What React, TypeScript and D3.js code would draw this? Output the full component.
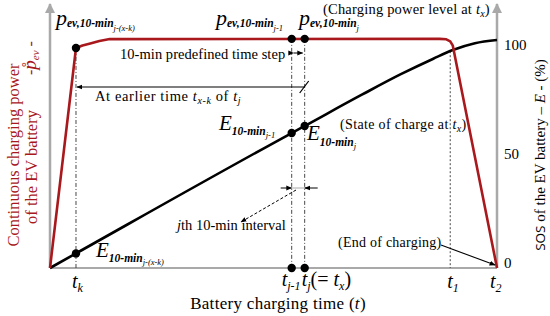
import React from 'react';
import * as d3 from 'd3';

// charging power (% of rated level) over charging time (min)
const powerTime = [0, 20, 25, 31, 38, 46, 300, 305, 308, 310, 344];
const powerLevel = [0, 96.5, 97.6, 98.5, 99.6, 100.4, 100.5, 100.3, 99.4, 97.5, 0];

// state of charge (%) over charging time (min)
const socTime = [0, 20, 186, 196, 240, 270, 295, 310, 327, 344];
const socLevel = [0, 6.4, 59.2, 62.3, 76, 85, 91.8, 95.6, 98.6, 100];

// marked instants
const tK = 20;
const tJ1 = 186;
const tJ = 196;
const t1 = 308;
const t2 = 344;

const powerDotTime = [tK, tJ1, tJ];
const powerDotLevel = [96.5, 100.5, 100.5];
const socDotTime = [tK, tJ1, tJ];
const socDotLevel = [6.4, 59.2, 62.3];
const axisDotTime = [tJ1, tJ];
const socTicks = [0, 50, 100];

const RED = '#a8181c';
const GRAY = '#a9a9a9';
const SERIF = '"Liberation Serif", "Times New Roman", serif';

export default function App() {
  const width = 550;
  const height = 316;

  const x = d3.scaleLinear().domain([0, t2]).range([50, 497]);
  const y = d3.scaleLinear().domain([0, 100]).range([268, 40]);
  const tickY = d3.scaleLinear().domain([0, 100]).range([268, 50]);

  const powerLine = d3.line<number>()
    .x((d, i) => x(powerTime[i]))
    .y((d) => y(d));
  const socLine = d3.line<number>()
    .x((d, i) => x(socTime[i]))
    .y((d) => y(d))
    .curve(d3.curveMonotoneX);

  const socAt = (t: number) => {
    const i = d3.bisectLeft(socTime, t);
    if (i <= 0) return socLevel[0];
    const a = socTime[i - 1], b = socTime[i];
    return socLevel[i - 1] + (socLevel[i] - socLevel[i - 1]) * (t - a) / (b - a);
  };

  const base = y(0);
  const sub = { fontStyle: 'italic' as const, fontWeight: 700 };

  return (
    <svg width={width} height={height} viewBox={`0 0 ${width} ${height}`}
      style={{ position: 'absolute', left: 0, top: 0, fontFamily: SERIF }}>
      <defs>
        <marker id="axArrow" viewBox="0 0 10 10" refX="9" refY="5" markerWidth="4" markerHeight="4" orient="auto">
          <path d="M0,0 L10,5 L0,10 z" fill={GRAY} />
        </marker>
        <marker id="blkArrow" viewBox="0 0 10 10" refX="9" refY="5" markerWidth="6" markerHeight="6" orient="auto" markerUnits="userSpaceOnUse">
          <path d="M0,1 L10,5 L0,9 z" fill="#000" />
        </marker>
      </defs>

      {/* axes */}
      <line x1={x(0)} y1={base} x2={x(0)} y2={4} stroke={GRAY} strokeWidth={2.5} markerEnd="url(#axArrow)" />
      <line x1={x(t2)} y1={base} x2={x(t2)} y2={4} stroke={GRAY} strokeWidth={2.5} markerEnd="url(#axArrow)" />
      <line x1={x(0)} y1={base} x2={x(t2)} y2={base} stroke={GRAY} strokeWidth={2} />

      {/* guide lines */}
      <line x1={x(tK)} y1={y(powerDotLevel[0])} x2={x(tK)} y2={base} stroke="#333" strokeWidth={0.9} strokeDasharray="4 2 1 2" />
      {axisDotTime.map((t) => (
        <line key={t} x1={x(t)} y1={y(100.5)} x2={x(t)} y2={base} stroke="#333" strokeWidth={0.9} strokeDasharray="4 2 1 2" />
      ))}
      <line x1={x(t1)} y1={y(socAt(t1))} x2={x(t1)} y2={base} stroke="#333" strokeWidth={0.9} strokeDasharray="2 2" />

      {/* curves */}
      <path d={socLine(socLevel) || ''} fill="none" stroke="#000" strokeWidth={2.6} />
      <path d={powerLine(powerLevel) || ''} fill="none" stroke={RED} strokeWidth={2.6} strokeLinejoin="round" />

      {/* dots */}
      {powerDotTime.map((t, i) => (
        <circle key={'p' + i} cx={x(t)} cy={y(powerDotLevel[i])} r={4.2} fill="#000" />
      ))}
      {socDotTime.map((t, i) => (
        <circle key={'s' + i} cx={x(t)} cy={y(socDotLevel[i])} r={4.2} fill="#000" />
      ))}
      {axisDotTime.map((t) => (
        <circle key={'a' + t} cx={x(t)} cy={base} r={4.2} fill="#000" />
      ))}

      {/* power labels */}
      <text x={56} y={25}>
        <tspan fontStyle="italic" fontSize={22}>p</tspan>
        <tspan {...sub} fontSize={11.5} dy={2}>ev,10-min</tspan>
        <tspan fontStyle="italic" fontSize={8.5} dy={4}>j-(x-k)</tspan>
      </text>
      <text x={216} y={25}>
        <tspan fontStyle="italic" fontSize={22}>p</tspan>
        <tspan {...sub} fontSize={11.5} dy={2}>ev,10-min</tspan>
        <tspan fontStyle="italic" fontSize={8.5} dy={4}>j-1</tspan>
      </text>
      <text x={299} y={25}>
        <tspan fontStyle="italic" fontSize={22}>p</tspan>
        <tspan {...sub} fontSize={11.5} dy={2}>ev,10-min</tspan>
        <tspan fontStyle="italic" fontSize={8.5} dy={4}>j</tspan>
      </text>
      <text x={323} y={14} fontSize={14.5} letterSpacing={0.2}>
        (Charging power level at <tspan fontStyle="italic">t</tspan>
        <tspan fontStyle="italic" fontSize={10} dy={3}>x</tspan>
        <tspan dy={-3}>)</tspan>
      </text>

      {/* time step */}
      <text x={120} y={59} fontSize={14.5} letterSpacing={0.05}>10-min predefined time step</text>
      <line x1={x(tJ1) + 2} y1={53} x2={x(tJ) - 2} y2={53} stroke="#000" strokeWidth={1}
        markerStart="url(#blkArrow)" markerEnd="url(#blkArrow)" />

      {/* earlier time arrow */}
      <line x1={x(tJ)} y1={87} x2={x(tK) + 1} y2={87} stroke="#000" strokeWidth={1.2} markerEnd="url(#blkArrow)" />
      <line x1={x(tJ) - 5} y1={93} x2={x(tJ) + 4} y2={81} stroke="#000" strokeWidth={1.2} />
      <text x={95} y={101} fontSize={14.5} letterSpacing={0.6}>
        At earlier time <tspan fontStyle="italic">t</tspan>
        <tspan fontStyle="italic" fontSize={10} dy={3}>x-k</tspan>
        <tspan dy={-3}> of </tspan>
        <tspan fontStyle="italic">t</tspan>
        <tspan fontStyle="italic" fontSize={10} dy={3}>j</tspan>
      </text>

      {/* SOC labels */}
      <text x={96} y={257}>
        <tspan fontStyle="italic" fontSize={21}>E</tspan>
        <tspan {...sub} fontSize={11.5} dy={5}>10-min</tspan>
        <tspan fontStyle="italic" fontSize={8.5} dy={3}>j-(x-k)</tspan>
      </text>
      <text x={219} y={130}>
        <tspan fontStyle="italic" fontSize={21}>E</tspan>
        <tspan {...sub} fontSize={11.5} dy={5}>10-min</tspan>
        <tspan fontStyle="italic" fontSize={8.5} dy={3}>j-1</tspan>
      </text>
      <text x={307} y={140}>
        <tspan fontStyle="italic" fontSize={21}>E</tspan>
        <tspan {...sub} fontSize={11.5} dy={6}>10-min</tspan>
        <tspan fontStyle="italic" fontSize={8.5} dy={3}>j</tspan>
      </text>
      <text x={340} y={129} fontSize={14} letterSpacing={0.35}>
        (State of charge at <tspan fontStyle="italic">t</tspan>
        <tspan fontStyle="italic" fontSize={10} dy={3}>x</tspan>
        <tspan dy={-3}>)</tspan>
      </text>

      {/* jth interval */}
      <line x1={x(tJ1) - 11} y1={188} x2={x(tJ1)} y2={188} stroke="#000" strokeWidth={1} markerEnd="url(#blkArrow)" />
      <line x1={x(tJ) + 13} y1={188} x2={x(tJ)} y2={188} stroke="#000" strokeWidth={1} markerEnd="url(#blkArrow)" />
      <line x1={x(tJ1)} y1={188} x2={x(tJ)} y2={188} stroke={GRAY} strokeWidth={1} />
      <line x1={296} y1={190} x2={241} y2={222} stroke="#000" strokeWidth={1} strokeDasharray="3 2" markerEnd="url(#blkArrow)" />
      <text x={177} y={230} fontSize={14.5}>
        <tspan fontStyle="italic">j</tspan>th 10-min interval
      </text>

      {/* end of charging */}
      <text x={338} y={247} fontSize={14} letterSpacing={0.25}>(End of charging)</text>
      <line x1={441} y1={245} x2={x(t2) - 2} y2={265} stroke="#000" strokeWidth={1.1} markerEnd="url(#blkArrow)" />

      {/* time tick labels */}
      <text x={x(tK) - 4} y={288} fontStyle="italic">
        <tspan fontSize={20}>t</tspan><tspan fontSize={12} dy={4}>k</tspan>
      </text>
      <text x={x(tJ1) - 10} y={286} fontStyle="italic">
        <tspan fontSize={20}>t</tspan><tspan fontSize={12} dy={4}>j-1</tspan>
      </text>
      <text x={x(tJ) - 3} y={286}>
        <tspan fontStyle="italic" fontSize={20}>t</tspan>
        <tspan fontStyle="italic" fontSize={12} dy={4}>j</tspan>
        <tspan fontSize={20} dy={-4}>(= </tspan>
        <tspan fontStyle="italic" fontSize={20}>t</tspan>
        <tspan fontStyle="italic" fontSize={12} dy={4}>x</tspan>
        <tspan fontSize={20} dy={-4}>)</tspan>
      </text>
      <text x={x(t1) - 3} y={288} fontStyle="italic">
        <tspan fontSize={20}>t</tspan><tspan fontSize={12} dy={4}>1</tspan>
      </text>
      <text x={x(t2) - 7} y={288} fontStyle="italic">
        <tspan fontSize={20}>t</tspan><tspan fontSize={12} dy={4}>2</tspan>
      </text>
      <text x={278} y={309} fontSize={17} letterSpacing={0.3} textAnchor="middle">
        Battery charging time (<tspan fontStyle="italic">t</tspan>)
      </text>

      {/* SOC tick labels */}
      {socTicks.map((v) => (
        <text key={v} x={x(t2) + 7} y={tickY(v)} fontSize={15}>{v}</text>
      ))}

      {/* left axis title */}
      <text transform="translate(19,155) rotate(-90)" textAnchor="middle" fontSize={16.5} fill={RED}>
        Continuous charging power
      </text>
      <text transform="translate(37,167) rotate(-90)" textAnchor="middle" fontSize={16.5} fill={RED}>
        of the EV battery
      </text>
      <text transform="translate(36,58) rotate(-90)" textAnchor="middle" fontSize={16} fill={RED}>
        -<tspan fontStyle="italic" fontSize={19}>p&#778;</tspan>
        <tspan fontStyle="italic" fontSize={11} dy={3}>ev</tspan>
        <tspan dy={-3}> -</tspan>
      </text>

      {/* right axis title */}
      <text transform="translate(545,155) rotate(-90)" textAnchor="middle" fontSize={15}>
        <tspan fontFamily="'Open Sans', sans-serif" fontSize={13.5}>SOS</tspan> of the EV battery – <tspan fontStyle="italic">E</tspan> - (%)
      </text>
    </svg>
  );
}
